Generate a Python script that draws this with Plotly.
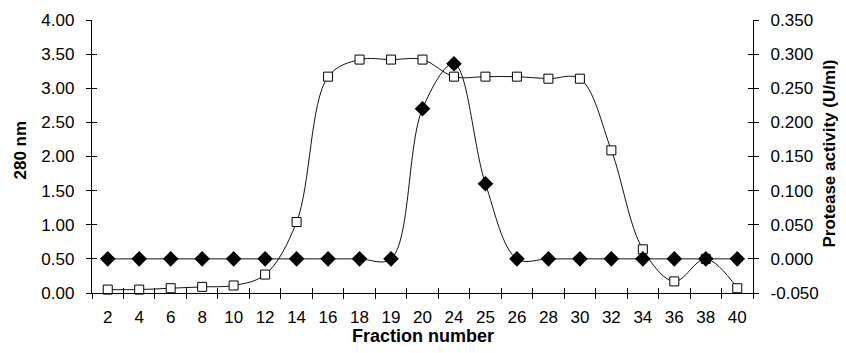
import plotly.graph_objects as go

fractions = ["2", "4", "6", "8", "10", "12", "14", "16", "18", "19", "20",
             "24", "25", "26", "28", "30", "32", "34", "36", "38", "40"]
absorbance_280 = [0.05, 0.05, 0.07, 0.09, 0.11, 0.27, 1.04, 3.17, 3.42, 3.42, 3.42,
                  3.17, 3.17, 3.17, 3.14, 3.14, 2.09, 0.64, 0.17, 0.50, 0.07]
protease_activity = [0.0, 0.0, 0.0, 0.0, 0.0, 0.0, 0.0, 0.0, 0.0, 0.0, 0.220,
                     0.286, 0.110, 0.0, 0.0, 0.0, 0.0, 0.0, 0.0, 0.0, 0.0]
left_ticks = [0.0, 0.5, 1.0, 1.5, 2.0, 2.5, 3.0, 3.5, 4.0]
right_ticks = [-0.05, 0.0, 0.05, 0.10, 0.15, 0.20, 0.25, 0.30, 0.35]
right_tick_text = ["-0.050", "0.000", "0.050", "0.100", "0.150", "0.200", "0.250", "0.300", "0.350"]

FONT = "Liberation Sans, Arial, sans-serif"
TICKF = dict(family=FONT, size=17, color="black")

fig = go.Figure()
fig.add_trace(go.Scatter(
    x=fractions, y=absorbance_280, mode="lines+markers", yaxis="y",
    line=dict(shape="spline", smoothing=1, color="#111", width=1),
    marker=dict(symbol="square", size=9, color="white", line=dict(color="black", width=1)),
    showlegend=False, cliponaxis=False, hoverinfo="x+y"))
fig.add_trace(go.Scatter(
    x=fractions, y=protease_activity, mode="lines+markers", yaxis="y2",
    line=dict(shape="spline", smoothing=1, color="#111", width=1),
    marker=dict(symbol="diamond", size=12, color="black", line=dict(color="black", width=0)),
    showlegend=False, cliponaxis=False, hoverinfo="x+y"))
# transparent helper traces so the overlay axes (inner half of the crossing tick marks) are drawn
fig.add_trace(go.Scatter(x=[0], y=[left_ticks[0]], xaxis="x2", yaxis="y3", mode="markers",
                         marker=dict(opacity=0), showlegend=False, hoverinfo="skip"))
fig.add_trace(go.Scatter(x=[0], y=[right_ticks[1]], xaxis="x2", yaxis="y4", mode="markers",
                         marker=dict(opacity=0), showlegend=False, hoverinfo="skip"))

common = dict(showgrid=False, zeroline=False, showline=True, linecolor="black", linewidth=1.3,
              ticks="outside", ticklen=5, tickwidth=1.3, tickcolor="black", tickfont=TICKF,
              automargin=False)
inner = dict(ticks="inside", ticklen=5, tickwidth=1.3, tickcolor="black", showticklabels=False,
             showgrid=False, zeroline=False, showline=False, automargin=False)

fig.update_layout(
    width=838, height=337,
    margin=dict(l=84, r=93, t=12, b=52),
    paper_bgcolor="white", plot_bgcolor="white",
    font=dict(family=FONT, color="black"),
    xaxis=dict(type="category", categoryorder="array", categoryarray=fractions,
               range=[-0.5, len(fractions) - 0.5], tickson="boundaries",
               ticklabelstandoff=8, **common),
    yaxis=dict(range=[0, 4], tickvals=left_ticks, tickformat=".2f",
               ticklabelstandoff=8, **common),
    yaxis2=dict(range=[-0.05, 0.35], tickvals=right_ticks, ticktext=right_tick_text,
                overlaying="y", side="right", anchor="x", ticklabelstandoff=8, **common),
    xaxis2=dict(type="linear", overlaying="x", anchor="y3", side="bottom",
                range=[-0.5, len(fractions) - 0.5],
                tickmode="linear", tick0=-0.5, dtick=1, **inner),
    yaxis3=dict(type="linear", overlaying="y", anchor="x2", side="left", range=[0, 4],
                tickvals=left_ticks, **inner),
    yaxis4=dict(type="linear", overlaying="y", anchor="x2", side="right", range=[-0.05, 0.35],
                tickvals=right_ticks, **inner),
    annotations=[
        dict(text="<b>Fraction number</b>", xref="paper", yref="paper", x=0.5, y=0,
             yshift=-43, xanchor="center", yanchor="middle", showarrow=False,
             font=dict(family=FONT, size=18, color="black")),
        dict(text="<b>280 nm</b>", xref="paper", yref="paper", x=0, y=0.5,
             xshift=-72, yshift=6, xanchor="center", yanchor="middle", textangle=-90,
             showarrow=False, font=dict(family=FONT, size=17, color="black")),
        dict(text="<b>Protease activity (U/ml)</b>", xref="paper", yref="paper", x=1, y=0.5,
             xshift=76, yshift=3, xanchor="center", yanchor="middle", textangle=-90,
             showarrow=False, font=dict(family=FONT, size=17, color="black")),
    ],
)

fig.write_html("out.html")
